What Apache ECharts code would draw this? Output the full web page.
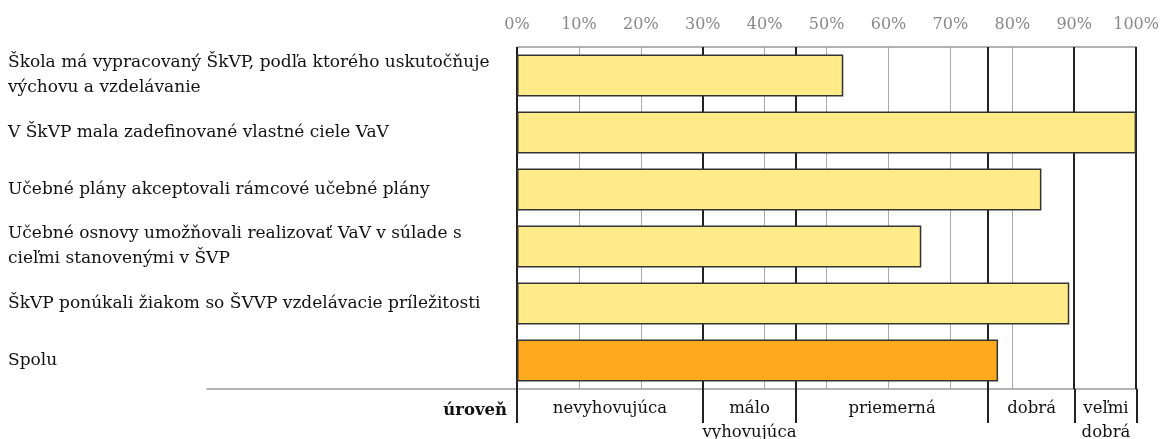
<!DOCTYPE html>
<html lang="sk">
<head>
  <meta charset="UTF-8">
  <title>ŠkVP</title>
  <script src="https://cdn.jsdelivr.net/npm/echarts@6/dist/echarts.min.js"></script>
</head>
<body style="margin:0;width:1162px;height:439px;overflow:hidden;background:#fff;">
  <div id="main" style="width:1162px;height:439px;"></div>
</body>
<script>
  // data
  var categories = [
    'Škola má vypracovaný ŠkVP, podľa ktorého uskutočňuje\nvýchovu a vzdelávanie',
    'V ŠkVP mala zadefinované vlastné ciele VaV',
    'Učebné plány akceptovali rámcové učebné plány',
    'Učebné osnovy umožňovali realizovať VaV v súlade s\ncieľmi stanovenými v ŠVP',
    'ŠkVP ponúkali žiakom so ŠVVP vzdelávacie príležitosti',
    'Spolu'
  ];
  var values = [52.7, 100, 84.7, 65.3, 89.2, 77.7];
  var levelBounds = [0, 30, 45, 76, 90, 100];
  var levelNames = ['nevyhovujúca', 'málo\nvyhovujúca', 'priemerná', 'dobrá', 'veľmi\ndobrá'];
  var levelTitle = 'úroveň';

  var FONT = 'DejaVu Serif';
  var myChart = echarts.init(document.getElementById('main'));

  var bandLines = levelBounds.map(function (v) { return { xAxis: v }; });
  var bandAreas = levelNames.map(function (n, i) {
    return [{ xAxis: levelBounds[i], name: n }, { xAxis: levelBounds[i + 1] }];
  });

  var option = {
    backgroundColor: '#fff',
    animation: false,
    grid: [
      { left: 517, right: 25, top: 47, height: 342 },
      { left: 207, right: 25, top: 389, height: 34 }
    ],
    xAxis: [{
      type: 'value', gridIndex: 0, position: 'top',
      min: 0, max: 100, interval: 10,
      axisLine: { show: true, onZero: false, lineStyle: { color: '#999', width: 1.5 } },
      axisTick: { show: false },
      axisLabel: { formatter: '{value}%', color: '#888', fontFamily: FONT, fontSize: 16, margin: 14 },
      splitLine: { show: true, lineStyle: { color: '#aaa', width: 1 } }
    }, {
      type: 'value', gridIndex: 1, position: 'top',
      min: -50, max: 100,
      axisLine: { show: true, onZero: false, lineStyle: { color: '#999', width: 1.5 } },
      axisTick: { show: false },
      axisLabel: { show: false },
      splitLine: { show: false }
    }],
    yAxis: [{
      type: 'category', gridIndex: 0, inverse: true, data: categories,
      axisLine: { show: false },
      axisTick: { show: false },
      axisLabel: { align: 'left', margin: 509, color: '#111', fontFamily: FONT, fontSize: 17, lineHeight: 25 }
    }, {
      type: 'value', gridIndex: 1, min: 0, max: 1, show: false
    }],
    series: [{
      type: 'bar', xAxisIndex: 0, yAxisIndex: 0, z: 5,
      barWidth: 42,
      data: values.map(function (v, i) {
        return { value: v, itemStyle: { color: i === values.length - 1 ? '#FFA91D' : '#FFEB88' } };
      }),
      itemStyle: { borderColor: '#333', borderWidth: 1.5 }
    }, {
      // level boundaries in the plot
      type: 'line', xAxisIndex: 0, yAxisIndex: 0, z: 1, data: [],
      markLine: {
        silent: true, symbol: 'none', z: 1, label: { show: false },
        lineStyle: { color: '#222', width: 2, type: 'solid' },
        data: bandLines
      }
    }, {
      // level scale under the plot
      type: 'line', xAxisIndex: 1, yAxisIndex: 1, data: [],
      markLine: {
        silent: true, symbol: 'none', label: { show: false },
        lineStyle: { color: '#222', width: 2, type: 'solid' },
        data: bandLines
      },
      markArea: {
        silent: true,
        itemStyle: { color: 'rgba(0,0,0,0)' },
        label: { show: true, position: 'insideTop', distance: 8, color: '#111', fontFamily: FONT, fontSize: 16.5, lineHeight: 24 },
        data: bandAreas.concat([[
          { xAxis: -50, name: levelTitle, label: { show: true, position: 'insideTopRight', distance: 10, fontWeight: 'bold' } },
          { xAxis: 0 }
        ]])
      }
    }]
  };

  myChart.setOption(option);
</script>
</html>
